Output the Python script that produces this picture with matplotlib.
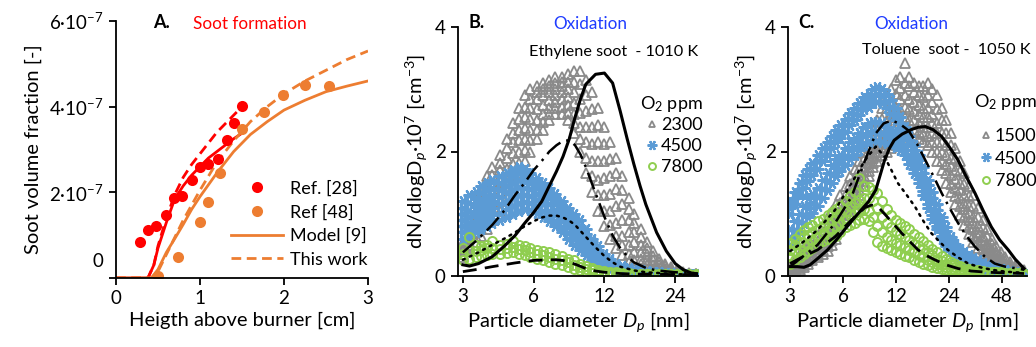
import matplotlib
matplotlib.use("Agg")
import matplotlib.pyplot as plt
from matplotlib.transforms import ScaledTranslation
from matplotlib.lines import Line2D

plt.rcParams['font.family'] = ['Lato', 'DejaVu Sans']
plt.rcParams['mathtext.fontset'] = 'custom'
plt.rcParams['mathtext.rm'] = 'Lato'
plt.rcParams['mathtext.it'] = 'Lato:italic'
plt.rcParams['mathtext.bf'] = 'Lato:bold'

# ---------------- panel A: soot formation (fv in 1e-7 units) ----------------
ref28_h = [0.29, 0.385, 0.48, 0.60, 0.69, 0.79, 0.91, 1.00, 1.10, 1.21, 1.32, 1.41, 1.50]
ref28_fv = [0.84, 1.12, 1.22, 1.48, 1.87, 1.91, 2.29, 2.58, 2.66, 2.78, 3.23, 3.61, 4.02]
ref48_h = [0.50, 0.74, 1.00, 1.10, 1.24, 1.50, 1.76, 1.99, 2.25, 2.53]
ref48_fv = [0.05, 0.48, 1.31, 1.77, 2.44, 3.48, 3.87, 4.27, 4.50, 4.49]

red_h = [0, 0.38, 0.45, 0.5, 0.6, 0.7, 0.8, 0.9, 1.0, 1.1, 1.2, 1.3, 1.4, 1.5]
red_model = [0, 0, 0.3, 0.7, 1.3, 1.85, 2.15, 2.4, 2.6, 2.8, 2.95, 3.1, 3.25, 3.38]
red_work = [0, 0, 0.3, 0.75, 1.4, 1.95, 2.35, 2.65, 2.9, 3.15, 3.4, 3.6, 3.8, 4.0]

orange_h = [0, 0.42, 0.5, 0.6, 0.7, 0.8, 0.9, 1.0, 1.2, 1.4, 1.6, 1.8, 2.0, 2.25, 2.5, 2.75, 3.0]
orange_model = [0, 0, 0.2, 0.6, 0.92, 1.25, 1.6, 1.9, 2.45, 2.95, 3.35, 3.65, 3.92, 4.15, 4.35, 4.48, 4.6]
orange_work = [0, 0, 0.15, 0.55, 0.95, 1.35, 1.7, 2.05, 2.7, 3.2, 3.65, 4.0, 4.3, 4.6, 4.85, 5.1, 5.3]

# ---------------- panel B: ethylene soot, 1010 K ----------------
d_B = [3.0, 3.2, 3.4, 3.6, 3.8, 4.0, 4.3, 4.6, 4.9, 5.2, 5.5, 5.8, 6.2, 6.6, 7.0, 7.4, 7.9, 8.4, 8.9, 9.4,
       10.0, 10.6, 11.3, 12.0, 12.7, 13.5, 14.3, 15.2, 16.1, 17.1, 18.2, 19.3, 20.5, 21.8, 23.1, 24.5, 26.0, 27.6, 29.3]
grey_B = [
    [0.55, 0.75, 1.0, 1.35, 1.6, 1.75, 1.95, 2.2, 2.45, 2.7, 2.9, 3.0, 3.05, 3.1, 3.15, 3.2, 3.2, 3.25, 3.3, 3.3,
     3.15, 2.95, 2.7, 2.4, 2.15, 1.9, 1.6, 1.25, 1.0, 0.75, 0.55, 0.4, 0.28, 0.2, 0.14, 0.1, 0.07, 0.05, 0.04],
    [0.5, 0.68, 0.92, 1.22, 1.45, 1.62, 1.82, 2.05, 2.3, 2.52, 2.72, 2.85, 2.95, 3.0, 3.05, 3.1, 3.12, 3.12, 3.12, 3.08,
     2.9, 2.68, 2.42, 2.12, 1.88, 1.65, 1.38, 1.08, 0.85, 0.62, 0.45, 0.32, 0.22, 0.16, 0.11, 0.08, 0.05, 0.04, 0.03],
    [0.45, 0.6, 0.85, 1.1, 1.3, 1.5, 1.7, 1.9, 2.15, 2.35, 2.55, 2.7, 2.85, 2.9, 2.95, 3.0, 3.05, 3.0, 2.95, 2.85,
     2.65, 2.4, 2.15, 1.85, 1.6, 1.4, 1.15, 0.9, 0.7, 0.5, 0.35, 0.25, 0.17, 0.12, 0.09, 0.06, 0.04, 0.03, 0.03],
    [0.42, 0.55, 0.78, 0.98, 1.15, 1.35, 1.52, 1.72, 1.98, 2.18, 2.38, 2.52, 2.68, 2.75, 2.82, 2.9, 2.95, 2.88, 2.78, 2.62,
     2.4, 2.12, 1.85, 1.58, 1.32, 1.12, 0.9, 0.7, 0.54, 0.39, 0.26, 0.18, 0.12, 0.09, 0.06, 0.04, 0.03, 0.02, 0.02],
    [0.4, 0.5, 0.7, 0.85, 1.0, 1.2, 1.35, 1.55, 1.8, 2.0, 2.2, 2.35, 2.5, 2.6, 2.7, 2.8, 2.85, 2.75, 2.6, 2.4,
     2.15, 1.85, 1.55, 1.3, 1.05, 0.85, 0.65, 0.5, 0.38, 0.28, 0.18, 0.12, 0.08, 0.06, 0.04, 0.03, 0.02, 0.02, 0.02],
    [0.35, 0.48, 0.62, 0.75, 0.88, 1.05, 1.2, 1.4, 1.62, 1.82, 2.02, 2.18, 2.35, 2.48, 2.6, 2.7, 2.72, 2.62, 2.45, 2.2,
     1.9, 1.6, 1.3, 1.05, 0.82, 0.65, 0.49, 0.36, 0.26, 0.19, 0.12, 0.08, 0.05, 0.04, 0.03, 0.02, 0.02, 0.01, 0.01],
    [0.3, 0.45, 0.55, 0.65, 0.75, 0.9, 1.05, 1.25, 1.45, 1.65, 1.85, 2.0, 2.2, 2.35, 2.5, 2.6, 2.6, 2.5, 2.3, 2.0,
     1.65, 1.35, 1.05, 0.8, 0.6, 0.45, 0.33, 0.22, 0.15, 0.1, 0.06, 0.04, 0.03, 0.02, 0.02, 0.01, 0.01, 0.01, 0.01],
]
blue_B = [
    [1.2, 1.3, 1.35, 1.45, 1.5, 1.55, 1.6, 1.65, 1.7, 1.75, 1.72, 1.65, 1.58, 1.5, 1.42, 1.32, 1.2, 1.1, 1.0, 0.9,
     0.75, 0.6, 0.48, 0.35, 0.28, 0.2, 0.16, 0.13, 0.11, 0.1, 0.08, 0.07, 0.06, 0.05, 0.05, 0.04, 0.04, 0.03, 0.03],
    [1.1, 1.18, 1.25, 1.33, 1.38, 1.42, 1.5, 1.55, 1.6, 1.65, 1.64, 1.58, 1.5, 1.42, 1.34, 1.24, 1.12, 1.02, 0.92, 0.8,
     0.68, 0.54, 0.42, 0.31, 0.24, 0.17, 0.13, 0.11, 0.09, 0.08, 0.06, 0.05, 0.05, 0.04, 0.04, 0.03, 0.03, 0.02, 0.02],
    [1.0, 1.05, 1.15, 1.2, 1.25, 1.3, 1.38, 1.45, 1.5, 1.55, 1.55, 1.5, 1.42, 1.35, 1.25, 1.15, 1.05, 0.95, 0.85, 0.72,
     0.6, 0.48, 0.37, 0.27, 0.2, 0.14, 0.11, 0.09, 0.07, 0.06, 0.05, 0.04, 0.04, 0.03, 0.03, 0.03, 0.02, 0.02, 0.02],
    [0.9, 0.95, 1.05, 1.1, 1.15, 1.2, 1.27, 1.33, 1.38, 1.43, 1.42, 1.39, 1.32, 1.25, 1.15, 1.06, 0.96, 0.86, 0.76, 0.64,
     0.53, 0.42, 0.32, 0.23, 0.17, 0.12, 0.09, 0.07, 0.06, 0.05, 0.04, 0.03, 0.03, 0.02, 0.02, 0.02, 0.02, 0.02, 0.01],
    [0.8, 0.85, 0.95, 1.0, 1.05, 1.1, 1.15, 1.2, 1.25, 1.3, 1.3, 1.28, 1.22, 1.15, 1.05, 0.98, 0.88, 0.78, 0.68, 0.57,
     0.46, 0.36, 0.27, 0.2, 0.14, 0.1, 0.08, 0.06, 0.05, 0.04, 0.03, 0.03, 0.02, 0.02, 0.02, 0.02, 0.02, 0.01, 0.01],
    [0.7, 0.75, 0.82, 0.88, 0.92, 0.98, 1.02, 1.08, 1.12, 1.18, 1.19, 1.17, 1.12, 1.05, 0.96, 0.89, 0.79, 0.69, 0.59, 0.5,
     0.4, 0.3, 0.22, 0.16, 0.11, 0.08, 0.06, 0.05, 0.04, 0.03, 0.03, 0.02, 0.02, 0.01, 0.01, 0.01, 0.01, 0.01, 0.01],
    [0.6, 0.65, 0.7, 0.75, 0.8, 0.85, 0.9, 0.95, 1.0, 1.05, 1.08, 1.06, 1.02, 0.95, 0.88, 0.8, 0.7, 0.6, 0.5, 0.42,
     0.33, 0.25, 0.18, 0.13, 0.09, 0.06, 0.05, 0.04, 0.03, 0.02, 0.02, 0.02, 0.01, 0.01, 0.01, 0.01, 0.01, 0.01, 0.01],
]
green_B = [
    [0.45, 0.62, 0.5, 0.48, 0.5, 0.57, 0.5, 0.52, 0.56, 0.5, 0.48, 0.45, 0.42, 0.4, 0.38, 0.35, 0.32, 0.28, 0.25, 0.2,
     0.16, 0.13, 0.1, 0.08, 0.07, 0.06, 0.05, 0.05, 0.04, 0.04, 0.04, 0.04, 0.03, 0.03, 0.03, 0.03, 0.03, 0.03, 0.03],
    [0.35, 0.4, 0.4, 0.42, 0.45, 0.45, 0.44, 0.45, 0.46, 0.44, 0.42, 0.38, 0.36, 0.33, 0.3, 0.28, 0.25, 0.22, 0.18, 0.15,
     0.12, 0.09, 0.07, 0.06, 0.05, 0.04, 0.04, 0.03, 0.03, 0.03, 0.03, 0.03, 0.02, 0.02, 0.02, 0.02, 0.02, 0.02, 0.02],
    [0.25, 0.28, 0.3, 0.32, 0.33, 0.35, 0.36, 0.37, 0.38, 0.36, 0.33, 0.3, 0.28, 0.25, 0.22, 0.2, 0.17, 0.14, 0.12, 0.09,
     0.07, 0.05, 0.04, 0.03, 0.03, 0.02, 0.02, 0.02, 0.02, 0.02, 0.01, 0.01, 0.01, 0.01, 0.01, 0.01, 0.01, 0.01, 0.01],
]

solid_B_d = [3.0, 3.2, 3.5, 4.0, 4.5, 5.0, 5.5, 6.0, 6.5, 7.0, 7.5, 8.0, 8.5, 9.0, 9.5, 10.0, 11.0, 12.0, 13.0, 14.0,
             15.0, 16.0, 17.0, 18.0, 20.0, 22.0, 24.0, 26.0, 28.0, 30.0]
solid_B = [0.18, 0.16, 0.2, 0.31, 0.48, 0.65, 0.85, 1.02, 1.2, 1.45, 1.68, 1.92, 2.2, 2.55, 2.85, 3.08, 3.24, 3.26, 3.1, 2.65,
           2.2, 1.8, 1.45, 1.15, 0.7, 0.4, 0.2, 0.1, 0.05, 0.03]
dashdot_B_d = [3.0, 3.5, 4.0, 4.5, 5.0, 5.5, 6.0, 6.5, 7.0, 7.5, 8.0, 8.5, 9.0, 9.5, 10.0, 11.0, 12.0, 13.0, 14.0,
               15.0, 16.0, 18.0, 20.0, 24.0, 28.0, 30.0]
dashdot_B = [0.38, 0.6, 0.82, 1.05, 1.3, 1.5, 1.7, 1.85, 2.0, 2.1, 2.17, 2.18, 2.1, 1.95, 1.75, 1.33, 0.95, 0.65, 0.45,
             0.32, 0.22, 0.13, 0.09, 0.06, 0.05, 0.04]
dotted_B_d = [3.0, 3.5, 4.0, 4.5, 5.0, 5.5, 6.0, 6.5, 7.0, 7.5, 8.0, 8.5, 9.0, 10.0, 11.0, 12.0, 13.0, 14.0, 16.0,
              18.0, 20.0, 24.0, 30.0]
dotted_B = [0.26, 0.38, 0.5, 0.6, 0.7, 0.8, 0.88, 0.94, 0.97, 0.97, 0.94, 0.89, 0.82, 0.63, 0.46, 0.32, 0.22, 0.15, 0.09,
            0.06, 0.05, 0.03, 0.02]
dashed_B_d = [3.0, 3.5, 4.0, 5.0, 6.0, 7.0, 7.5, 8.0, 9.0, 10.0, 11.0, 12.0, 14.0, 16.0, 20.0, 25.0, 30.0]
dashed_B = [0.07, 0.11, 0.15, 0.21, 0.25, 0.26, 0.26, 0.25, 0.19, 0.12, 0.08, 0.06, 0.04, 0.03, 0.03, 0.02, 0.02]

# ---------------- panel C: toluene soot, 1050 K ----------------
d_C = [3.0, 3.2, 3.4, 3.6, 3.8, 4.0, 4.3, 4.6, 4.9, 5.2, 5.5, 5.8, 6.2, 6.6, 7.0, 7.4, 7.9, 8.4, 8.9, 9.4,
       10.0, 10.6, 11.3, 12.0, 12.7, 13.5, 14.3, 15.2, 16.1, 17.1, 18.2, 19.3, 20.5, 21.8, 23.1, 24.5, 26.0, 27.6,
       29.3, 31.1, 33.0, 35.0, 37.2, 39.5, 41.9, 44.5, 47.2, 50.1, 53.2, 56.5, 60.0, 63.7]
grey_C = [
    [0.15, 0.25, 0.35, 0.45, 0.52, 0.58, 0.65, 0.8, 0.95, 1.05, 1.15, 1.3, 1.45, 1.6, 1.72, 1.85, 2.0, 2.2, 2.35, 2.5,
     2.7, 2.88, 3.0, 3.15, 3.2, 3.42, 3.2, 3.1, 3.05, 3.05, 3.1, 3.0, 2.9, 2.7, 2.5, 2.3, 2.05, 1.85,
     1.65, 1.45, 1.3, 1.1, 0.9, 0.75, 0.6, 0.48, 0.38, 0.3, 0.22, 0.16, 0.12, 0.09],
    [0.12, 0.2, 0.28, 0.38, 0.45, 0.5, 0.56, 0.7, 0.82, 0.92, 1.02, 1.18, 1.32, 1.48, 1.58, 1.72, 1.88, 2.05, 2.2, 2.35,
     2.52, 2.7, 2.8, 2.92, 3.02, 3.1, 3.05, 2.95, 2.9, 2.88, 2.9, 2.8, 2.68, 2.5, 2.3, 2.1, 1.88, 1.68,
     1.48, 1.28, 1.12, 0.95, 0.78, 0.64, 0.51, 0.4, 0.31, 0.24, 0.18, 0.13, 0.1, 0.07],
    [0.08, 0.15, 0.22, 0.3, 0.38, 0.42, 0.48, 0.6, 0.7, 0.8, 0.9, 1.05, 1.2, 1.35, 1.45, 1.6, 1.75, 1.9, 2.05, 2.2,
     2.35, 2.5, 2.6, 2.7, 2.85, 2.9, 2.85, 2.8, 2.75, 2.7, 2.7, 2.6, 2.45, 2.3, 2.1, 1.9, 1.7, 1.5,
     1.3, 1.12, 0.95, 0.8, 0.65, 0.52, 0.42, 0.33, 0.25, 0.19, 0.14, 0.1, 0.08, 0.06],
    [0.06, 0.12, 0.19, 0.26, 0.33, 0.38, 0.43, 0.54, 0.62, 0.72, 0.82, 0.98, 1.12, 1.26, 1.38, 1.52, 1.68, 1.82, 1.98, 2.1,
     2.25, 2.38, 2.48, 2.55, 2.68, 2.72, 2.68, 2.65, 2.6, 2.55, 2.55, 2.45, 2.3, 2.15, 1.95, 1.76, 1.56, 1.38,
     1.18, 1.01, 0.85, 0.71, 0.58, 0.46, 0.37, 0.28, 0.21, 0.16, 0.12, 0.09, 0.07, 0.05],
    [0.05, 0.1, 0.16, 0.22, 0.28, 0.33, 0.38, 0.48, 0.55, 0.65, 0.75, 0.9, 1.05, 1.18, 1.3, 1.45, 1.6, 1.75, 1.9, 2.0,
     2.15, 2.25, 2.35, 2.4, 2.5, 2.55, 2.5, 2.5, 2.45, 2.4, 2.4, 2.3, 2.15, 2.0, 1.8, 1.62, 1.42, 1.25,
     1.07, 0.9, 0.75, 0.62, 0.5, 0.4, 0.32, 0.24, 0.18, 0.14, 0.1, 0.08, 0.06, 0.04],
    [0.03, 0.08, 0.13, 0.18, 0.24, 0.29, 0.34, 0.42, 0.48, 0.58, 0.68, 0.82, 0.98, 1.1, 1.22, 1.38, 1.52, 1.68, 1.82, 1.92,
     2.05, 2.12, 2.2, 2.25, 2.32, 2.38, 2.35, 2.35, 2.32, 2.28, 2.25, 2.15, 2.0, 1.85, 1.65, 1.48, 1.28, 1.12,
     0.95, 0.79, 0.65, 0.54, 0.43, 0.34, 0.26, 0.2, 0.15, 0.11, 0.08, 0.06, 0.05, 0.03],
    [0.02, 0.05, 0.1, 0.15, 0.2, 0.25, 0.3, 0.35, 0.4, 0.5, 0.6, 0.75, 0.9, 1.0, 1.15, 1.3, 1.45, 1.6, 1.75, 1.85,
     1.95, 2.0, 2.05, 2.1, 2.15, 2.2, 2.2, 2.2, 2.2, 2.15, 2.1, 2.0, 1.85, 1.7, 1.5, 1.35, 1.15, 0.98,
     0.82, 0.68, 0.55, 0.45, 0.36, 0.28, 0.21, 0.16, 0.12, 0.09, 0.07, 0.05, 0.04, 0.03],
]
blue_C = [
    [1.2, 1.35, 1.5, 1.62, 1.72, 1.82, 1.95, 2.05, 2.15, 2.25, 2.35, 2.42, 2.52, 2.62, 2.7, 2.78, 2.88, 2.93, 3.0, 3.04,
     3.0, 2.92, 2.83, 2.7, 2.55, 2.4, 2.25, 2.1, 1.95, 1.75, 1.55, 1.35, 1.15, 0.95, 0.78, 0.63, 0.52, 0.44,
     0.38, 0.33, 0.29, 0.25, 0.21, 0.18, 0.15, 0.13, 0.12, 0.1, 0.08, 0.06, 0.05, 0.04],
    [1.1, 1.25, 1.4, 1.52, 1.62, 1.72, 1.84, 1.95, 2.05, 2.15, 2.25, 2.32, 2.42, 2.52, 2.6, 2.68, 2.78, 2.82, 2.89, 2.92,
     2.89, 2.81, 2.72, 2.6, 2.46, 2.32, 2.18, 2.02, 1.86, 1.66, 1.46, 1.26, 1.06, 0.88, 0.72, 0.58, 0.48, 0.4,
     0.34, 0.3, 0.26, 0.22, 0.18, 0.16, 0.13, 0.12, 0.1, 0.08, 0.07, 0.06, 0.04, 0.04],
    [1.0, 1.15, 1.3, 1.42, 1.52, 1.62, 1.72, 1.85, 1.95, 2.05, 2.15, 2.22, 2.32, 2.42, 2.5, 2.58, 2.68, 2.72, 2.78, 2.8,
     2.78, 2.7, 2.6, 2.5, 2.38, 2.25, 2.1, 1.95, 1.78, 1.58, 1.38, 1.18, 0.98, 0.8, 0.65, 0.53, 0.43, 0.36,
     0.31, 0.26, 0.22, 0.19, 0.16, 0.13, 0.11, 0.1, 0.09, 0.07, 0.06, 0.05, 0.04, 0.03],
    [0.75, 0.88, 1.0, 1.12, 1.25, 1.32, 1.42, 1.55, 1.65, 1.78, 1.88, 1.95, 2.05, 2.15, 2.22, 2.3, 2.4, 2.45, 2.48, 2.48,
     2.45, 2.4, 2.35, 2.28, 2.2, 2.1, 1.95, 1.8, 1.63, 1.43, 1.23, 1.05, 0.86, 0.7, 0.56, 0.46, 0.37, 0.3,
     0.25, 0.21, 0.17, 0.15, 0.12, 0.1, 0.08, 0.07, 0.07, 0.05, 0.04, 0.04, 0.03, 0.03],
    [0.62, 0.74, 0.86, 0.98, 1.1, 1.17, 1.27, 1.4, 1.52, 1.64, 1.74, 1.82, 1.92, 2.02, 2.08, 2.16, 2.25, 2.3, 2.33, 2.32,
     2.3, 2.27, 2.22, 2.18, 2.12, 2.02, 1.88, 1.72, 1.56, 1.36, 1.16, 0.98, 0.8, 0.65, 0.52, 0.43, 0.34, 0.28,
     0.22, 0.18, 0.15, 0.13, 0.1, 0.08, 0.07, 0.06, 0.06, 0.05, 0.04, 0.03, 0.03, 0.02],
    [0.5, 0.6, 0.72, 0.85, 0.95, 1.02, 1.12, 1.25, 1.38, 1.5, 1.6, 1.68, 1.78, 1.88, 1.95, 2.02, 2.1, 2.15, 2.18, 2.17,
     2.15, 2.13, 2.1, 2.07, 2.03, 1.95, 1.8, 1.65, 1.5, 1.3, 1.1, 0.92, 0.75, 0.6, 0.48, 0.4, 0.32, 0.25,
     0.2, 0.16, 0.13, 0.11, 0.09, 0.07, 0.06, 0.05, 0.05, 0.04, 0.03, 0.03, 0.02, 0.02],
]
green_C = [
    [0.53, 0.6, 0.68, 0.74, 0.78, 0.82, 0.88, 0.92, 0.98, 1.03, 1.08, 1.12, 1.2, 1.28, 1.35, 1.57, 1.45, 1.43, 1.38, 1.33,
     1.2, 1.08, 0.98, 0.9, 0.85, 0.8, 0.75, 0.68, 0.62, 0.56, 0.5, 0.44, 0.38, 0.32, 0.27, 0.23, 0.19, 0.16,
     0.14, 0.12, 0.1, 0.09, 0.08, 0.07, 0.07, 0.06, 0.06, 0.05, 0.05, 0.05, 0.05, 0.04],
    [0.42, 0.5, 0.55, 0.62, 0.66, 0.7, 0.75, 0.8, 0.85, 0.9, 0.95, 1.0, 1.05, 1.12, 1.18, 1.22, 1.25, 1.25, 1.2, 1.1,
     0.95, 0.85, 0.78, 0.72, 0.68, 0.63, 0.58, 0.52, 0.48, 0.43, 0.38, 0.33, 0.28, 0.24, 0.2, 0.17, 0.14, 0.12,
     0.1, 0.09, 0.08, 0.07, 0.06, 0.05, 0.05, 0.05, 0.04, 0.04, 0.04, 0.04, 0.03, 0.03],
    [0.3, 0.38, 0.42, 0.48, 0.52, 0.58, 0.62, 0.68, 0.72, 0.76, 0.8, 0.85, 0.9, 0.98, 1.02, 1.06, 1.08, 1.05, 0.95, 0.8,
     0.7, 0.62, 0.58, 0.53, 0.5, 0.46, 0.42, 0.38, 0.34, 0.3, 0.26, 0.23, 0.2, 0.17, 0.14, 0.12, 0.1, 0.09,
     0.08, 0.07, 0.06, 0.05, 0.05, 0.04, 0.04, 0.04, 0.03, 0.03, 0.03, 0.03, 0.03, 0.03],
    [0.2, 0.25, 0.3, 0.35, 0.4, 0.45, 0.52, 0.56, 0.6, 0.62, 0.65, 0.7, 0.78, 0.82, 0.85, 0.9, 0.92, 0.88, 0.7, 0.55,
     0.48, 0.45, 0.42, 0.38, 0.35, 0.32, 0.3, 0.26, 0.23, 0.2, 0.17, 0.15, 0.13, 0.11, 0.09, 0.08, 0.07, 0.06,
     0.05, 0.05, 0.04, 0.04, 0.03, 0.03, 0.03, 0.03, 0.02, 0.02, 0.02, 0.02, 0.02, 0.02],
]

solid_C_d = [3.0, 3.3, 3.6, 3.9, 4.3, 4.9, 5.5, 6.1, 6.8, 7.6, 8.4, 9.2, 10.3, 11.0, 11.7, 13.0, 14.6, 16.0, 17.6,
             19.5, 21.8, 24.0, 27.0, 30.0, 33.7, 37.5, 41.7, 46.5, 52.0, 57.0, 64.0]
solid_C = [0.15, 0.15, 0.14, 0.18, 0.28, 0.42, 0.58, 0.74, 0.9, 1.06, 1.2, 1.38, 1.85, 2.05, 2.18, 2.28, 2.35, 2.39, 2.4,
           2.35, 2.24, 2.08, 1.86, 1.6, 1.33, 1.05, 0.79, 0.58, 0.42, 0.27, 0.12]
dashdot_C_d = [3.0, 3.5, 4.3, 5.4, 6.7, 8.0, 9.2, 10.2, 11.3, 12.5, 14.1, 15.8, 17.6, 19.6, 21.8, 24.3, 27.0, 30.0,
               33.7, 38.0, 43.6, 50.0, 59.0, 64.0]
dashdot_C = [0.15, 0.3, 0.5, 0.85, 1.27, 1.86, 2.29, 2.45, 2.5, 2.45, 2.34, 2.12, 1.86, 1.6, 1.33, 1.08, 0.85, 0.65,
             0.47, 0.32, 0.2, 0.15, 0.12, 0.1]
dotted_C_d = [3.0, 3.5, 4.3, 5.4, 6.7, 8.0, 9.2, 10.3, 11.2, 12.3, 13.8, 15.4, 17.0, 19.0, 21.2, 23.6, 27.0, 30.8,
              36.0, 42.0, 50.0, 64.0]
dotted_C = [0.4, 0.53, 0.74, 1.06, 1.49, 1.86, 2.08, 1.92, 1.72, 1.49, 1.3, 1.11, 0.9, 0.69, 0.55, 0.42, 0.3, 0.2,
            0.14, 0.1, 0.07, 0.05]
dashed_C_d = [3.0, 3.5, 4.3, 5.4, 6.7, 8.0, 8.7, 9.4, 10.3, 11.5, 12.9, 14.4, 16.0, 17.8, 19.9, 23.0, 27.0, 32.0,
              40.0, 50.0, 64.0]
dashed_C = [0.2, 0.3, 0.42, 0.63, 0.9, 1.1, 1.14, 1.12, 1.0, 0.85, 0.69, 0.55, 0.42, 0.33, 0.26, 0.18, 0.12, 0.08,
            0.06, 0.05, 0.04]

# ---------------- styling ----------------
W, H = 1036, 347
GREY = '#8a8a8a'
BLUE = '#5b9bd5'
GREEN = '#8fce4f'
RED = '#ff0000'
ORANGE = '#ed7d31'
FS = 13.5
LFS = 14.5

fig = plt.figure(figsize=(W / 100, H / 100), dpi=100)


def px_axes(x0, y0, x1, y1):
    return fig.add_axes([x0 / W, 1 - y1 / H, (x1 - x0) / W, (y1 - y0) / H])


def style_axes(ax):
    for s in ['top', 'right']:
        ax.spines[s].set_visible(False)
    for s in ['left', 'bottom']:
        ax.spines[s].set_linewidth(1.3)
    ax.tick_params(direction='out', length=5, width=1.3, labelsize=FS, pad=4)
    ax.minorticks_off()


def figtext(x, y, s, **kw):
    fig.text(x / W, 1 - y / H, s, ha='center', va='center', **kw)


# panel A
axA = px_axes(116, 21, 368, 278)
axA.plot(red_h, red_model, color=RED, lw=2.0)
axA.plot(red_h, red_work, color=RED, lw=2.0, ls=(0, (3.5, 2)))
axA.plot(orange_h, orange_model, color=ORANGE, lw=2.0)
axA.plot(orange_h, orange_work, color=ORANGE, lw=2.0, ls=(0, (3.5, 2)))
axA.plot(ref28_h, ref28_fv, 'o', color=RED, ms=8, mec='none')
axA.plot(ref48_h, ref48_fv, 'o', color=ORANGE, ms=8, mec='none')
axA.set_xlim(0, 3)
axA.set_ylim(0, 6)
axA.set_xticks([0, 1, 2, 3])
axA.set_yticks([0, 2, 4, 6])
axA.set_yticklabels(['0', '2·10$^{-7}$', '4·10$^{-7}$', '6·10$^{-7}$'])
style_axes(axA)
zero_lab = axA.get_yticklabels()[0]
zero_lab.set_transform(zero_lab.get_transform() + ScaledTranslation(0, 0.18, fig.dpi_scale_trans))
axA.set_xlabel('Heigth above burner [cm]', fontsize=LFS, labelpad=3)
axA.set_ylabel('Soot volume fraction [-]', fontsize=LFS, labelpad=5)
handlesA = [
    Line2D([], [], ls='none', marker='o', color=RED, ms=8, mec='none'),
    Line2D([], [], ls='none', marker='o', color=ORANGE, ms=8, mec='none'),
    Line2D([], [], color=ORANGE, lw=2.0),
    Line2D([], [], color=ORANGE, lw=2.0, ls=(0, (3.5, 2))),
]
axA.legend(handlesA, ['Ref. [28]', 'Ref [48]', 'Model [9]', 'This work'], loc='lower right',
           bbox_to_anchor=(1.0, 0.04), frameon=False, fontsize=FS - 0.5, handlelength=2.9,
           handletextpad=0.4, labelspacing=0.42, borderpad=0.0, borderaxespad=0.0)
figtext(161, 23, 'A.', fontsize=FS - 0.5, fontweight='bold')
figtext(250, 24, 'Soot formation', fontsize=FS - 1.2, color=RED)


def size_panel(ax, d, grey, blue, green, lines):
    for row in grey:
        ax.plot(d, row, ls='none', marker='^', ms=7.5, mfc='none', mec=GREY, mew=1.3)
    for row in blue:
        ax.plot(d, row, ls='none', marker=(6, 2, 90), ms=8.5, color=BLUE, mew=1.6)
    for row in green:
        ax.plot(d, row, ls='none', marker='o', ms=6.5, mfc='none', mec=GREEN, mew=1.4)
    (sd, sy), (ddd, ddy), (dtd, dty), (dsd, dsy) = lines
    ax.plot(sd, sy, color='black', lw=2.2)
    ax.plot(ddd, ddy, color='black', lw=1.8, ls=(0, (7, 2.5, 1, 2.5)))
    ax.plot(dtd, dty, color='black', lw=1.8, ls=(0, (0.8, 2.2)), dash_capstyle='round')
    ax.plot(dsd, dsy, color='black', lw=2.0, ls=(0, (5, 3)))
    ax.set_xscale('log', base=2)
    ax.set_ylim(0, 4)
    ax.set_yticks([0, 2, 4])
    ax.set_yticklabels(['0', '2', '4'])
    style_axes(ax)
    ax.set_xlabel('Particle diameter $D_p$ [nm]', fontsize=LFS, labelpad=3)
    ax.set_ylabel('dN/dlogD$_p$·10$^7$ [cm$^{-3}$]', fontsize=LFS, labelpad=3)


def ppm_legend(ax, labels, anchor, spacing, title_gap):
    handles = [
        Line2D([], [], ls='none', marker='^', ms=5, mfc='none', mec=GREY, mew=1.3),
        Line2D([], [], ls='none', marker=(6, 2, 90), ms=7, color=BLUE, mew=1.6),
        Line2D([], [], ls='none', marker='o', ms=5, mfc='none', mec=GREEN, mew=1.4),
    ]
    leg = ax.legend(handles, labels, title='O$_2$ ppm', loc='upper right', bbox_to_anchor=anchor,
                    frameon=False, fontsize=FS - 0.5, title_fontsize=FS - 0.5, handlelength=0.6,
                    handletextpad=0.2, labelspacing=spacing, borderpad=0.0, borderaxespad=0.0)
    leg._legend_box.align = 'right'
    leg._legend_box.sep = title_gap


# panel B
axB = px_axes(458, 27, 698, 276)
size_panel(axB, d_B, grey_B, blue_B, green_B,
           [(solid_B_d, solid_B), (dashdot_B_d, dashdot_B), (dotted_B_d, dotted_B), (dashed_B_d, dashed_B)])
axB.set_xlim(2.86, 30)
axB.set_xticks([3, 6, 12, 24])
axB.set_xticklabels(['3', '6', '12', '24'])
ppm_legend(axB, ['2300', '4500', '7800'], (1.02, 0.73), 0.28, 2)
figtext(477, 23, 'B.', fontsize=FS - 0.5, fontweight='bold')
figtext(590, 24, 'Oxidation', fontsize=FS - 1.2, color='#1f3cff')
figtext(614, 52, 'Ethylene soot  - 1010 K', fontsize=FS - 1.8)

# panel C
axC = px_axes(788, 27, 1027, 276)
size_panel(axC, d_C, grey_C, blue_C, green_C,
           [(solid_C_d, solid_C), (dashdot_C_d, dashdot_C), (dotted_C_d, dotted_C), (dashed_C_d, dashed_C)])
axC.set_xlim(2.92, 66.5)
axC.set_xticks([3, 6, 12, 24, 48])
axC.set_xticklabels(['3', '6', '12', '24', '48'])
ppm_legend(axC, ['1500', '4500', '7800'], (1.04, 0.74), 0.35, 12)
figtext(806, 22, 'C.', fontsize=FS - 0.5, fontweight='bold')
figtext(911, 24, 'Oxidation', fontsize=FS - 1.2, color='#1f3cff')
figtext(946, 50, 'Toluene  soot -  1050 K', fontsize=FS - 1.8)

fig.savefig('out.png', dpi=100)
